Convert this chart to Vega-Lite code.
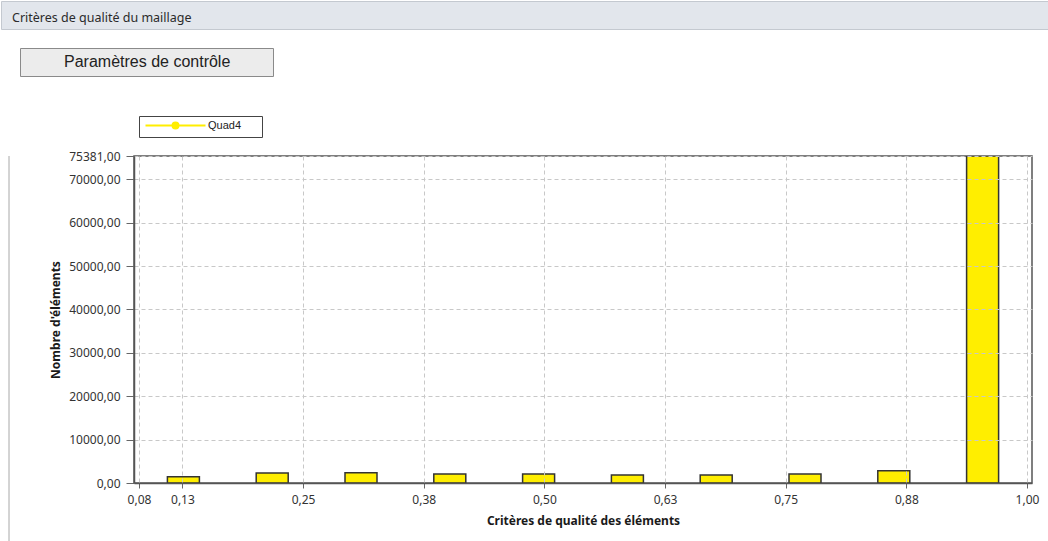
{
  "$schema": "https://vega.github.io/schema/vega-lite/v6.json",
  "padding": 0,
  "background": "white",
  "columns": 1,
  "align": "none",
  "spacing": 16,
  "resolve": {"scale": {"fill": "independent", "stroke": "independent"}, "legend": {"fill": "independent", "stroke": "independent"}},
  "config": {
    "view": {"stroke": null},
    "font": "Noto Sans"
  },
  "concat": [
    {
      "width": 1048,
      "height": 28,
      "view": {"fill": "#e2e6ec", "stroke": "#c4c9d0"},
      "data": {"values": [{"t": "Critères de qualité du maillage"}]},
      "mark": {"type": "text", "align": "left", "baseline": "middle", "dx": 11, "dy": 3, "fontSize": 12.5, "font": "Noto Sans", "color": "#2b2b2b"},
      "encoding": {
        "text": {"field": "t", "type": "nominal"},
        "x": {"datum": 0, "type": "quantitative", "scale": {"domain": [0, 1]}, "axis": null}
      }
    },
    {
      "columns": 2,
      "align": "none",
      "spacing": 8,
      "resolve": {"scale": {"fill": "independent", "stroke": "independent"}, "legend": {"fill": "independent", "stroke": "independent"}},
      "concat": [
        {
          "width": 8,
          "height": 493,
          "view": {"stroke": null},
          "data": {"values": [{}]},
          "mark": {"type": "rule", "color": "#a8a8a8", "strokeWidth": 1},
          "encoding": {
            "x": {"datum": 1, "type": "quantitative", "scale": {"domain": [0, 1]}, "axis": null}
          }
        },
        {
          "width": 898,
          "height": 327,
          "view": {"stroke": "#555555", "strokeWidth": 1.5},
          "data": {
            "values": [
              {"critere": 0.126, "nombre": 1450, "serie": "Quad4"},
              {"critere": 0.218, "nombre": 2300, "serie": "Quad4"},
              {"critere": 0.310, "nombre": 2350, "serie": "Quad4"},
              {"critere": 0.402, "nombre": 2050, "serie": "Quad4"},
              {"critere": 0.494, "nombre": 2050, "serie": "Quad4"},
              {"critere": 0.586, "nombre": 1830, "serie": "Quad4"},
              {"critere": 0.678, "nombre": 1830, "serie": "Quad4"},
              {"critere": 0.770, "nombre": 2050, "serie": "Quad4"},
              {"critere": 0.862, "nombre": 2800, "serie": "Quad4"},
              {"critere": 0.954, "nombre": 75381, "serie": "Quad4"}
            ]
          },
          "mark": {"type": "bar", "size": 32, "strokeWidth": 1.5, "clip": true},
          "encoding": {
            "x": {
              "field": "critere",
              "type": "quantitative",
              "scale": {"domain": [0.08, 1.0], "nice": false, "zero": false},
              "axis": {
                "values": [0.08, 0.125, 0.25, 0.375, 0.5, 0.625, 0.75, 0.875, 1.0],
                "labelExpr": "replace(format(datum.value, '.2f'), '.', ',')",
                "title": "Critères de qualité des éléments",
                "titleFont": "Noto Sans",
                "titleFontSize": 12,
                "titleFontWeight": "bold",
                "titleColor": "#1a1a1a",
                "titlePadding": 10,
                "labelFont": "Noto Sans",
                "labelFontSize": 12,
                "labelColor": "#333333",
                "labelPadding": 6,
                "labelOverlap": false,
                "tickSize": 5,
                "tickColor": "#666666",
                "domainColor": "#555555",
                "domainWidth": 1.5,
                "grid": true,
                "gridColor": "#c8c8c8",
                "gridDash": [4, 3],
                "zindex": 1
              }
            },
            "y": {
              "field": "nombre",
              "type": "quantitative",
              "scale": {"domain": [0, 75381], "nice": false},
              "axis": {
                "values": [0, 10000, 20000, 30000, 40000, 50000, 60000, 70000, 75381],
                "labelExpr": "replace(format(datum.value, '.2f'), '.', ',')",
                "title": "Nombre d'éléments",
                "titleFont": "Noto Sans",
                "titleFontSize": 12,
                "titleFontWeight": "bold",
                "titleColor": "#1a1a1a",
                "titlePadding": 6,
                "labelFont": "Noto Sans",
                "labelFontSize": 12,
                "labelColor": "#333333",
                "labelPadding": 6,
                "labelOverlap": false,
                "tickSize": 8,
                "tickColor": "#666666",
                "domainColor": "#555555",
                "domainWidth": 1.5,
                "grid": true,
                "gridColor": "#c8c8c8",
                "gridDash": [4, 3],
                "zindex": 1
              }
            },
            "fill": {
              "field": "serie",
              "type": "nominal",
              "scale": {"range": ["#ffee00"]},
              "legend": {
                "title": null,
                "orient": "none",
                "legendX": 5,
                "legendY": -40,
                "fillColor": "white",
                "strokeColor": "#444444",
                "padding": 4,
                "symbolType": "M-1,0L19,0M10,0A1,1,0,1,1,8,0A1,1,0,1,1,10,0Z",
                "symbolSize": 36,
                "symbolStrokeWidth": 2,
                "symbolStrokeColor": "#ffee00",
                "symbolFillColor": "#ffee00",
                "labelFont": "Liberation Sans",
                "labelFontSize": 11,
                "labelColor": "#222222",
                "labelOffset": 54,
                "labelExpr": "datum.label + '\u2800\u2800'"
              }
            },
            "stroke": {
              "datum": "Paramètres de contrôle",
              "type": "nominal",
              "scale": {"range": ["#333333"]},
              "legend": {
                "title": null,
                "orient": "none",
                "legendX": -114,
                "legendY": -108,
                "fillColor": "#ececec",
                "strokeColor": "#8a8a8a",
                "padding": 6,
                "symbolOpacity": 0,
                "symbolSize": 1,
                "labelFont": "Liberation Sans",
                "labelFontSize": 16,
                "labelColor": "#222222",
                "labelOffset": 22,
                "labelLimit": 400,
                "labelExpr": "datum.label + '\u2800\u2800\u2800'"
              }
            }
          }
        }
      ]
    }
  ]
}
